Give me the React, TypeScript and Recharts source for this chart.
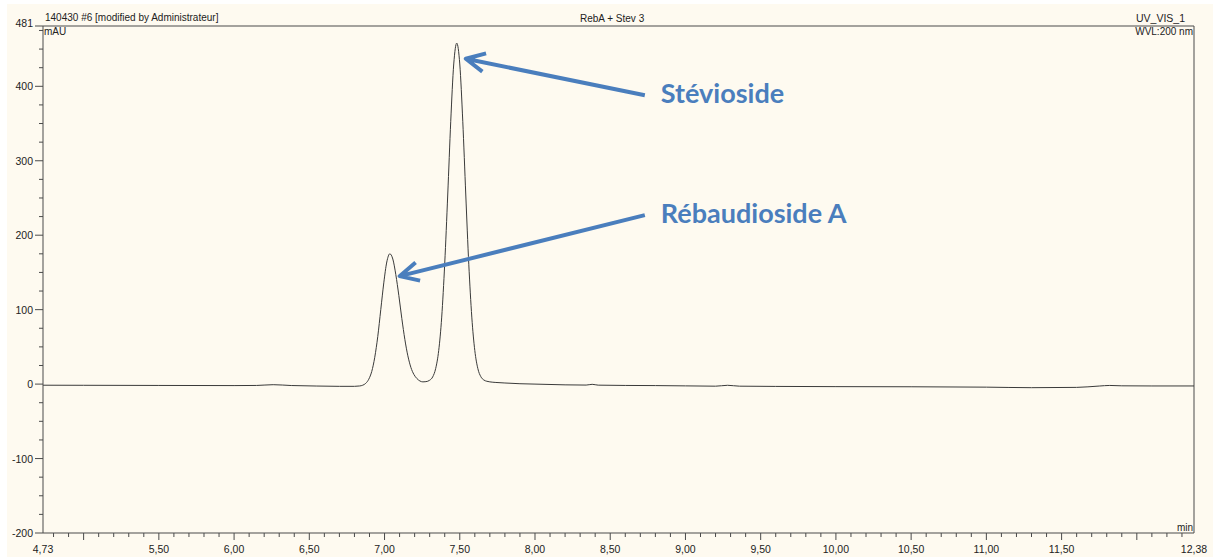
import { LineChart, Line, XAxis, YAxis, ReferenceLine } from "recharts"

// retention time (min) and absorbance (mAU)
const times = [
  4.73, 5.0, 5.5, 6.0, 6.15, 6.26, 6.38, 6.55, 6.7, 6.8,
  6.835, 6.855, 6.875, 6.895, 6.915, 6.935, 6.955, 6.975, 6.995, 7.015,
  7.035, 7.055, 7.075, 7.095, 7.115, 7.135, 7.155, 7.175, 7.195, 7.215,
  7.235, 7.255, 7.275, 7.3, 7.32, 7.34, 7.36, 7.38, 7.4, 7.42,
  7.44, 7.46, 7.48, 7.5, 7.52, 7.54, 7.56, 7.58, 7.6, 7.62,
  7.64, 7.66, 7.68, 7.7, 7.74, 7.8, 7.9, 8.0, 8.2, 8.34,
  8.38, 8.42, 8.6, 8.8, 9.0, 9.2, 9.28, 9.36, 9.6, 10.0,
  10.5, 11.0, 11.3, 11.6, 11.75, 11.82, 11.9, 12.1, 12.38,
]
const mAU = [
  -1.5, -1.6, -1.8, -2, -1.8, -0.8, -1.9, -2.6, -3, -3,
  -2.5, -1.5, 1, 6.5, 17, 36, 64, 100, 136, 164,
  175, 168, 147, 119, 88, 60, 38, 22.5, 13, 7.5,
  4.2, 3, 3.3, 5.2, 9.6, 21, 45, 90, 162, 254,
  353, 430, 458, 430, 353, 254, 161, 90, 45, 21,
  10, 5.5, 3.8, 3, 2.2, 1.5, 0.5, 0, -1, -1.3,
  -0.3, -1.4, -1.8, -2, -2.4, -2.8, -1.6, -2.8, -3.1, -3.4,
  -3.6, -4.1, -4.8, -4.4, -2.6, -1.8, -2.3, -2.5, -2.5,
]

const xMajor = [5.0, 5.5, 6.0, 6.5, 7.0, 7.5, 8.0, 8.5, 9.0, 9.5, 10.0, 10.5, 11.0, 11.5, 12.0]
const xLabels = [4.73, 5.5, 6.0, 6.5, 7.0, 7.5, 8.0, 8.5, 9.0, 9.5, 10.0, 10.5, 11.0, 11.5, 12.38]
const yMajor = [-200, -100, 0, 100, 200, 300, 400, 481]

// peak annotations: [label, tail, tip] in data units
const peakLabels = ["Stévioside", "Rébaudioside A"]
const arrowTails = [{ x: 8.73, y: 388 }, { x: 8.73, y: 227 }]
const arrowTips = [{ x: 7.54, y: 437 }, { x: 7.1, y: 145 }]

const data = times.map((t, i) => ({ t, v: mAU[i] }))

const xTicks: number[] = [4.73]
for (let k = 48; k <= 123; k++) xTicks.push(Math.round(k * 10) / 100)
xTicks.push(12.38)
const yTicks: number[] = []
for (let v = -200; v <= 475; v += 25) yTicks.push(v)
yTicks.push(481)

const AXIS = "#4a4a4a"
const BLUE = "#4a7ebd"
const FONT = "'Liberation Sans', Arial, sans-serif"

const XTick = ({ x, y, payload }: any) => {
  const v = payload.value
  const isEnd = v === 4.73 || v === 12.38
  const major = xMajor.some((m) => Math.abs(m - v) < 1e-6)
  const lab = xLabels.some((m) => Math.abs(m - v) < 1e-6)
  return (
    <g>
      {!isEnd && <line x1={x} x2={x} y1={y} y2={y + (major ? 7 : 4)} stroke={AXIS} />}
      {lab && (
        <text x={x} y={y + 16} textAnchor="middle" dominantBaseline="central" fontSize={10.5} fill="#222" fontFamily={FONT}>
          {v.toFixed(2).replace(".", ",")}
        </text>
      )}
    </g>
  )
}

const YTick = ({ x, y, payload }: any) => {
  const major = yMajor.includes(payload.value)
  return (
    <g>
      <line x1={x} x2={x - (major ? 8 : 4)} y1={y} y2={y} stroke={AXIS} />
      {major && (
        <text x={x - 10} y={payload.value === 481 ? y - 3 : y} textAnchor="end" dominantBaseline="central" fontSize={10.5} fill="#222" fontFamily={FONT}>
          {payload.value}
        </text>
      )}
    </g>
  )
}

const arrowShape = (label: string) => (props: any) => {
  const { x1, y1, x2, y2 } = props
  const a = Math.atan2(y1 - y2, x1 - x2)
  const len = 21
  const spread = 0.46
  const ax = x2 + len * Math.cos(a + spread)
  const ay = y2 + len * Math.sin(a + spread)
  const bx = x2 + len * Math.cos(a - spread)
  const by = y2 + len * Math.sin(a - spread)
  return (
    <g>
      <path
        d={`M${x1},${y1} L${x2},${y2} M${ax},${ay} L${x2},${y2} L${bx},${by}`}
        stroke={BLUE}
        strokeWidth={4}
        fill="none"
        strokeLinejoin="round"
      />
      <text x={x1 + 16} y={y1 - 3} dominantBaseline="central" fontSize={27} fontWeight={700} fill={BLUE} fontFamily="Lato, 'Open Sans', sans-serif">
        {label}
      </text>
    </g>
  )
}

const txt = (style: any) => ({
  position: "absolute" as const,
  fontFamily: FONT,
  fontSize: 10,
  color: "#222",
  lineHeight: "12px",
  whiteSpace: "nowrap" as const,
  ...style,
})

export default function App() {
  return (
    <div style={{ position: "absolute", left: 0, top: 0, width: 1213, height: 557, background: "#fff", overflow: "hidden" }}>
      <div style={{ position: "absolute", left: 7, top: 4, right: 0, bottom: 0, background: "#fefaf0" }} />
      <div style={{ position: "absolute", left: 0, top: 0 }}>
        <LineChart width={1213} height={557} data={data} margin={{ top: 26, right: 19, bottom: 0, left: 0 }}>
          <XAxis
            dataKey="t"
            type="number"
            domain={[4.73, 12.38]}
            allowDataOverflow
            ticks={xTicks}
            interval={0}
            tickSize={0}
            tickMargin={0}
            tickLine={false}
            tick={XTick}
            height={24}
            stroke={AXIS}
          />
          <YAxis
            type="number"
            domain={[-200, 481]}
            allowDataOverflow
            ticks={yTicks}
            interval={0}
            tickSize={0}
            tickMargin={0}
            tickLine={false}
            tick={YTick}
            width={43}
            stroke={AXIS}
          />
          <ReferenceLine y={481} stroke={AXIS} />
          <ReferenceLine x={12.38} stroke={AXIS} />
          <Line
            type="monotone"
            dataKey="v"
            stroke="#3a3a3a"
            strokeWidth={1}
            dot={false}
            isAnimationActive={false}
          />
          {peakLabels.map((label, i) => (
            <ReferenceLine
              key={label}
              segment={[arrowTails[i], arrowTips[i]]}
              shape={arrowShape(label)}
            />
          ))}
        </LineChart>
      </div>
      <div style={txt({ left: 45, top: 12 })}>140430 #6 [modified by Administrateur]</div>
      <div style={txt({ left: 580, top: 13 })}>RebA + Stev 3</div>
      <div style={txt({ right: 28, top: 12, fontSize: 10.5 })}>UV_VIS_1</div>
      <div style={txt({ right: 20, top: 26 })}>WVL:200 nm</div>
      <div style={txt({ left: 44, top: 26 })}>mAU</div>
      <div style={txt({ right: 20, top: 522 })}>min</div>
    </div>
  )
}
